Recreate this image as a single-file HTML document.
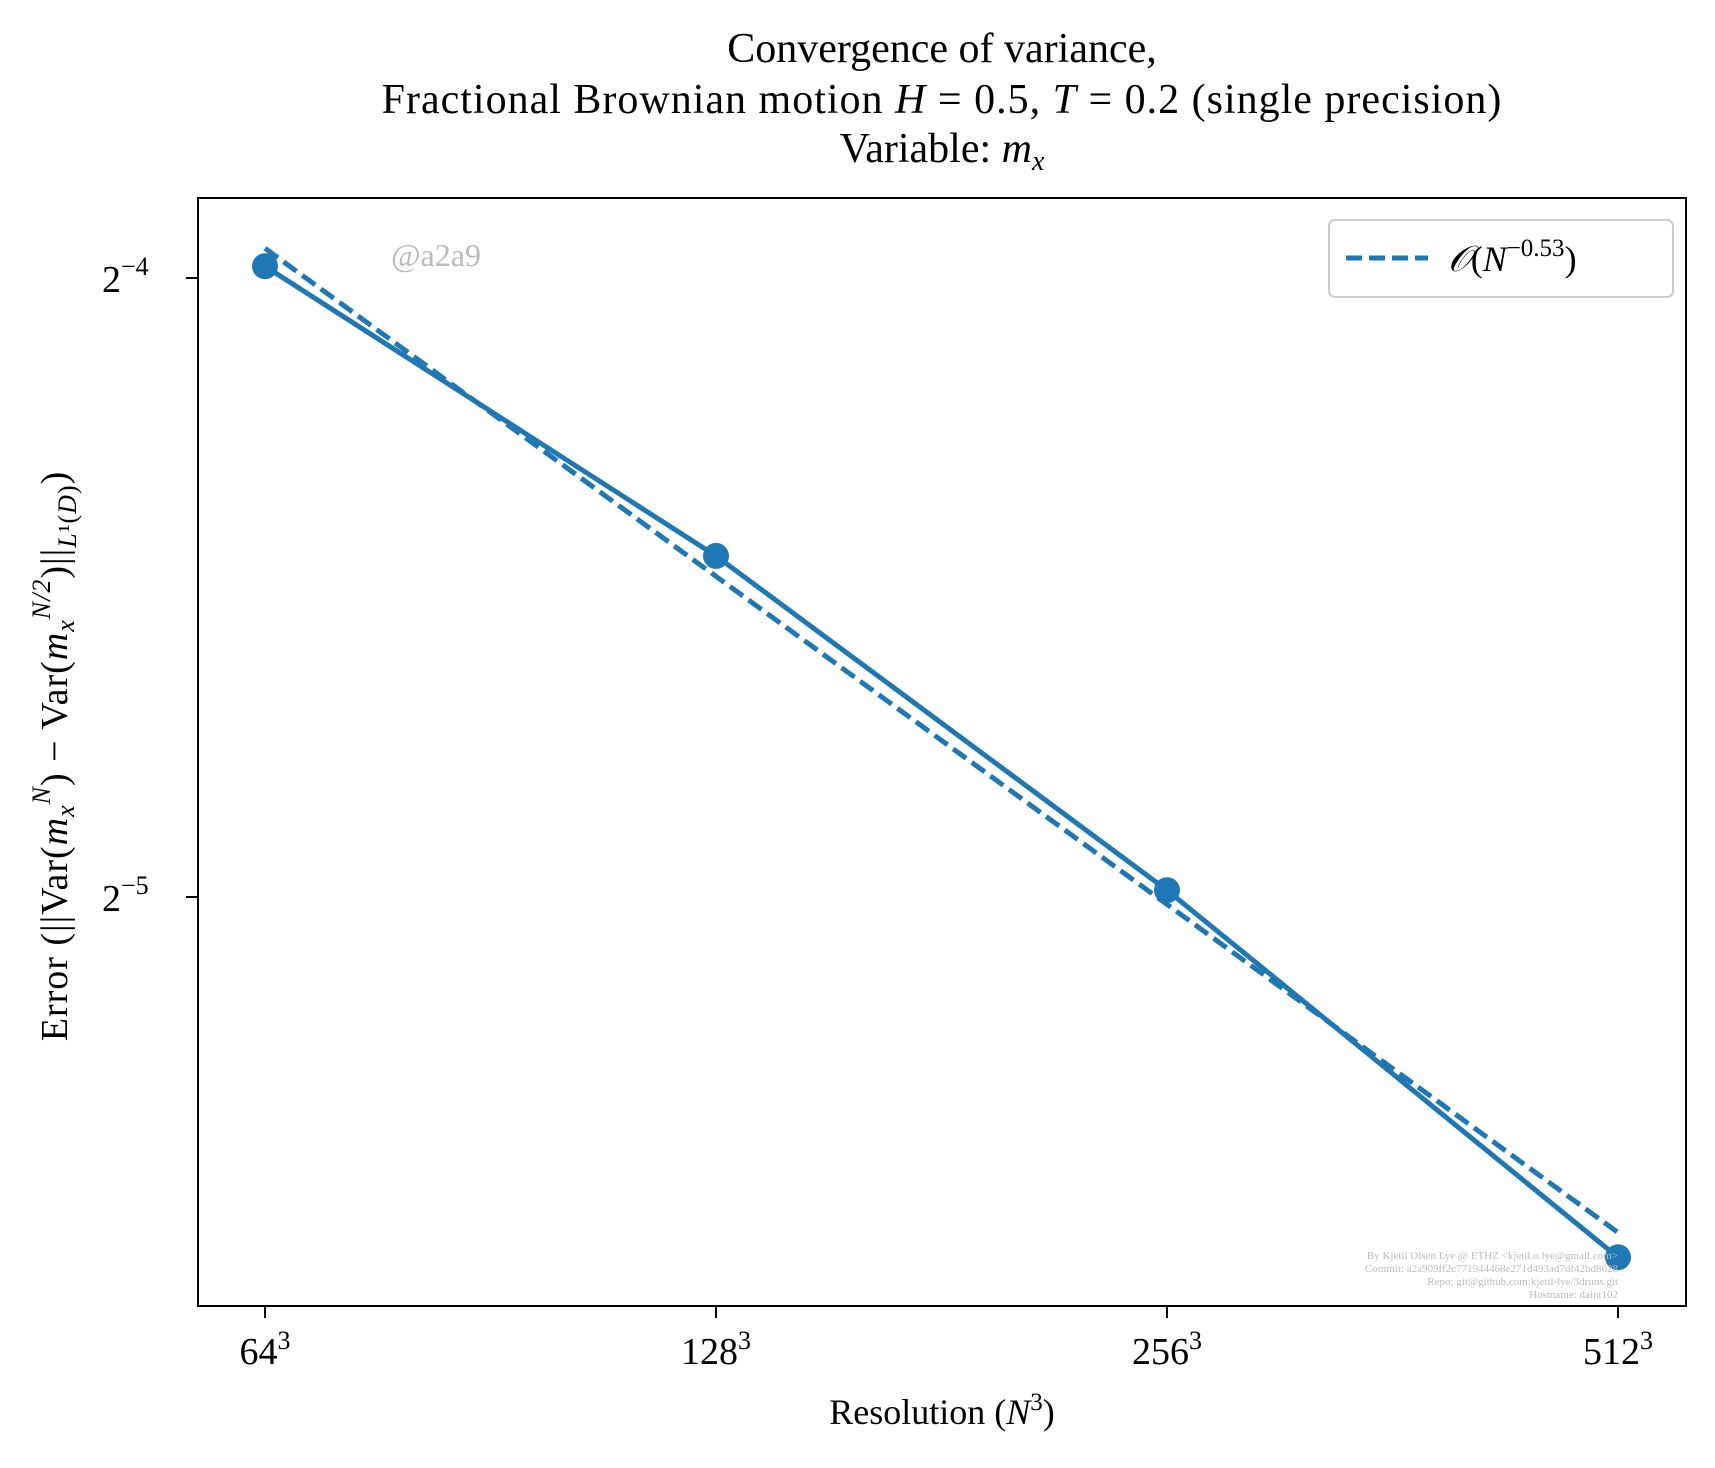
<!DOCTYPE html>
<html><head><meta charset="utf-8"><style>
body{margin:0;background:#fff;}
svg text{font-family:"Liberation Serif","DejaVu Serif",serif;}
</style></head><body>
<svg id="chart" width="1715" height="1463" viewBox="0 0 1715 1463">
<g font-size="42" text-anchor="middle" fill="#000">
<text x="942" y="62">Convergence of variance,</text>
<text x="942" y="113" letter-spacing="1">Fractional Brownian motion <tspan font-style="italic">H</tspan> = 0.5, <tspan font-style="italic">T</tspan> = 0.2 (single precision)</text>
<text x="942" y="162">Variable: <tspan font-style="italic">m</tspan><tspan font-style="italic" font-size="28" dy="8">x</tspan></text>
</g>
<text x="436" y="266" font-size="32" fill="#bbb" text-anchor="middle">@a2a9</text>
<g id="plot"></g>
<rect x="198" y="198" width="1488" height="1108" fill="none" stroke="#000" stroke-width="2"/>
<g>
<rect x="1329" y="220" width="344" height="77" rx="6" fill="#fff" stroke="#ccc" stroke-width="2"/>
<line x1="1346" y1="258" x2="1428" y2="258" stroke="#1f77b4" stroke-width="5" stroke-dasharray="16,7"/>
<text x="1448" y="271" font-size="36"><tspan font-style="italic">𝒪</tspan>(<tspan font-style="italic">N</tspan><tspan font-size="25" dy="-15">−0.53</tspan><tspan dy="15">)</tspan></text>
</g>
<g font-size="11" fill="#bbb" text-anchor="end" font-family="Liberation Mono">
<text x="1618" y="1259">By Kjetil Olsen Lye @ ETHZ &lt;kjetil.o.lye@gmail.com&gt;</text>
<text x="1618" y="1272">Commit: a2a909ff2c771944468e271d493ad7df42bd8628</text>
<text x="1618" y="1285">Repo: git@github.com:kjetil-lye/3druns.git</text>
<text x="1618" y="1298">Hostname: daint102</text>
</g>
<text transform="translate(67,756) rotate(-90)" font-size="38" text-anchor="middle" letter-spacing="1">Error  (||Var(<tspan font-style="italic">m</tspan><tspan font-size="26" font-style="italic" dy="7">x</tspan><tspan font-size="26" font-style="italic" dy="-24">N</tspan><tspan dy="17">) − Var(</tspan><tspan font-style="italic">m</tspan><tspan font-size="26" font-style="italic" dy="7">x</tspan><tspan font-size="26" font-style="italic" dy="-24">N/2</tspan><tspan dy="17">)||</tspan><tspan font-size="26" dy="9"><tspan font-style="italic">L</tspan>¹(<tspan font-style="italic">D</tspan>)</tspan><tspan dy="-9">)</tspan></text>
<text x="942" y="1424" font-size="36" text-anchor="middle">Resolution (<tspan font-style="italic">N</tspan><tspan font-size="25" dy="-14">3</tspan><tspan dy="14">)</tspan></text>
</svg>
<script>
const resolutions=[64,128,256,512];
const errorLog2=[-3.981,-4.449,-4.989,-5.582];
const fitSlope=-0.53;
const fitLog2At64=-3.952;
const yTickExps=[-4,-5];
const xTickLabels=["64","128","256","512"];
const NS="http://www.w3.org/2000/svg";
const plot=document.getElementById('plot');
const svg=document.getElementById('chart');
function xs(n){return 265+(Math.log2(n)-6)*451;}
function ys(l){return 278+(-4-l)*619;}
function mk(t,a,p){const e=document.createElementNS(NS,t);for(const k in a)e.setAttribute(k,a[k]);(p||plot).appendChild(e);return e;}
const fx1=xs(resolutions[0]),fx2=xs(resolutions[3]);
const fy1=ys(fitLog2At64),fy2=ys(fitLog2At64+fitSlope*(Math.log2(resolutions[3])-Math.log2(resolutions[0])));
const fl=mk('line',{x1:fx1,y1:fy1,x2:fx2,y2:fy2,stroke:'#1f77b4','stroke-width':5,'stroke-dasharray':'16,7'});


const pts=resolutions.map((n,i)=>xs(n)+','+ys(errorLog2[i])).join(' ');
const pl=mk('polyline',{points:pts,fill:'none',stroke:'#1f77b4','stroke-width':5});


resolutions.forEach((n,i)=>{
 const c=mk('circle',{cx:xs(n),cy:ys(errorLog2[i]),r:13,fill:'#1f77b4'});
 
 
 const tk=mk('line',{x1:xs(n),y1:1306,x2:xs(n),y2:1318,stroke:'#000','stroke-width':2},svg);
 
 
 const t=mk('text',{x:xs(n),y:1364,'font-size':38,'text-anchor':'middle'},svg);
 
 
 t.innerHTML=xTickLabels[i]+'<tspan font-size="26" dy="-15">3</tspan>';
});
yTickExps.forEach(e=>{
 const tk=mk('line',{x1:186,y1:ys(e),x2:198,y2:ys(e),stroke:'#000','stroke-width':2},svg);
 
 
 const t=mk('text',{x:102,y:ys(e)+14,'font-size':38},svg);
 
 
 t.innerHTML='2<tspan font-size="26" dy="-17">−'+(-e)+'</tspan>';
});
</script>
</body></html>
